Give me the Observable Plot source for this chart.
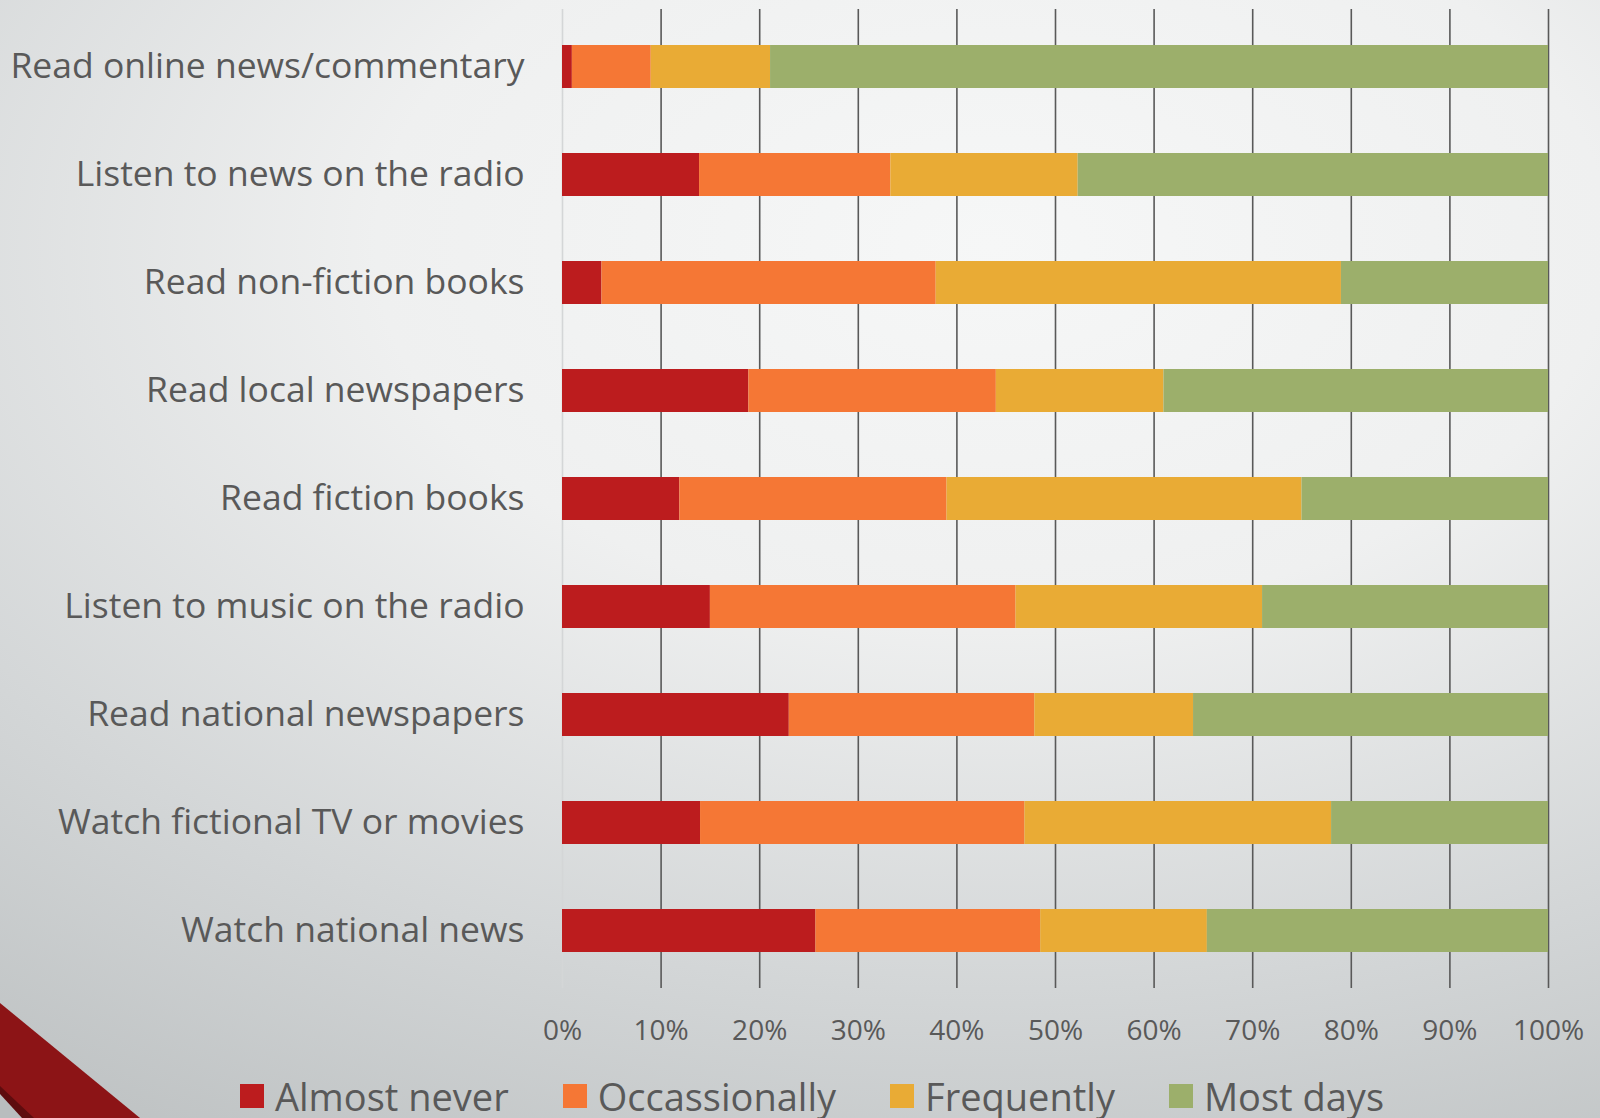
<!DOCTYPE html>
<html>
<head>
<meta charset="utf-8">
<script src="https://cdn.jsdelivr.net/npm/d3@7"></script>
<script src="https://cdn.jsdelivr.net/npm/@observablehq/plot@0.6"></script>
<style>
  html, body { margin: 0; padding: 0; }
  body {
    width: 1600px; height: 1118px; overflow: hidden; position: relative;
    background: radial-gradient(ellipse 110% 95% at 62% 22%, #f6f7f7 0%, #eff0f0 35%, #d3d6d7 70%, #bcc0c1 100%);
    font-family: "Open Sans", sans-serif;
  }
  #chart { position: absolute; left: 0; top: 0; }
  #legend { position: absolute; left: 240px; top: 1070px; }
  #legend .lg-swatch { margin-right: 54px !important; color: #595959; }
  #legend .lg-swatch > svg { margin-right: 11px !important; }
  .deco1 { position: absolute; left: 0; top: 1003px; width: 140px; height: 115px; background: #8c1416;
           clip-path: polygon(0 0, 100% 100%, 0 100%); }
  .deco2 { position: absolute; left: 0; top: 1086px; width: 34px; height: 32px; background: #5e0c0e;
           clip-path: polygon(0 0, 100% 100%, 0 100%); }
  .deco3 { position: absolute; left: 0; top: 1094px; width: 22px; height: 24px; background: #b9bdbe;
           clip-path: polygon(0 0, 100% 100%, 0 100%); }
</style>
</head>
<body>
<div class="deco1"></div><div class="deco2"></div><div class="deco3"></div>
<div id="chart"></div>
<div id="legend"></div>
<script>
const categories = [
  "Read online news/commentary",
  "Listen to news on the radio",
  "Read non-fiction books",
  "Read local newspapers",
  "Read fiction books",
  "Listen to music on the radio",
  "Read national newspapers",
  "Watch fictional TV or movies",
  "Watch national news"
];
const seriesNames = ["Almost never", "Occassionally", "Frequently", "Most days"];
const seriesColors = ["#bc1c1e", "#f57735", "#e9ab35", "#9caf6b"];
const almostNever  = [1.0, 13.9, 4.0, 18.9, 11.9, 15.0, 23.0, 14.0, 25.7];
const occasionally = [8.0, 19.4, 33.9, 25.1, 27.1, 31.0, 24.9, 32.9, 22.8];
const frequently   = [12.1, 19.0, 41.1, 17.0, 36.0, 25.0, 16.1, 31.1, 16.9];
const mostDays     = [78.9, 47.7, 21.0, 39.0, 25.0, 29.0, 36.0, 22.0, 34.6];
const tickValues = [0, 10, 20, 30, 40, 50, 60, 70, 80, 90, 100];
const tickLabels = ["0%", "10%", "20%", "30%", "40%", "50%", "60%", "70%", "80%", "90%", "100%"];

const seriesValues = [almostNever, occasionally, frequently, mostDays];
const rows = [];
seriesNames.forEach((s, si) => {
  categories.forEach((c, ci) => rows.push({category: c, series: s, value: seriesValues[si][ci]}));
});

const plot = Plot.plot({
  width: 1600,
  height: 1070,
  marginTop: 9,
  marginBottom: 82,
  marginLeft: 562,
  marginRight: 52,
  style: {background: "transparent", fontFamily: "Open Sans", color: "#595959"},
  x: {domain: [0, 100], axis: null},
  y: {domain: categories, paddingInner: 0.6, paddingOuter: 0.3, axis: null},
  color: {domain: seriesNames, range: seriesColors},
  marks: [
    Plot.ruleX(tickValues, {x: d => d, stroke: d => d === 0 ? "#d4d6d7" : "#595959", strokeWidth: 1.6}),
    Plot.barX(rows, Plot.stackX({x: "value", y: "category", fill: "series", order: seriesNames})),
    Plot.axisX({ticks: tickValues, tickFormat: d => tickLabels[tickValues.indexOf(d)], tickSize: 0, tickPadding: 32, fontSize: 28, label: null}),
    Plot.axisY({tickSize: 0, tickPadding: 38, fontSize: 35.5, label: null})
  ]
});
document.getElementById("chart").appendChild(plot);

const legend = plot.legend("color", {swatchSize: 24, className: "lg", style: {fontSize: "38px", fontFamily: "Open Sans", color: "#595959"}});
document.getElementById("legend").appendChild(legend);
</script>
</body>
</html>
